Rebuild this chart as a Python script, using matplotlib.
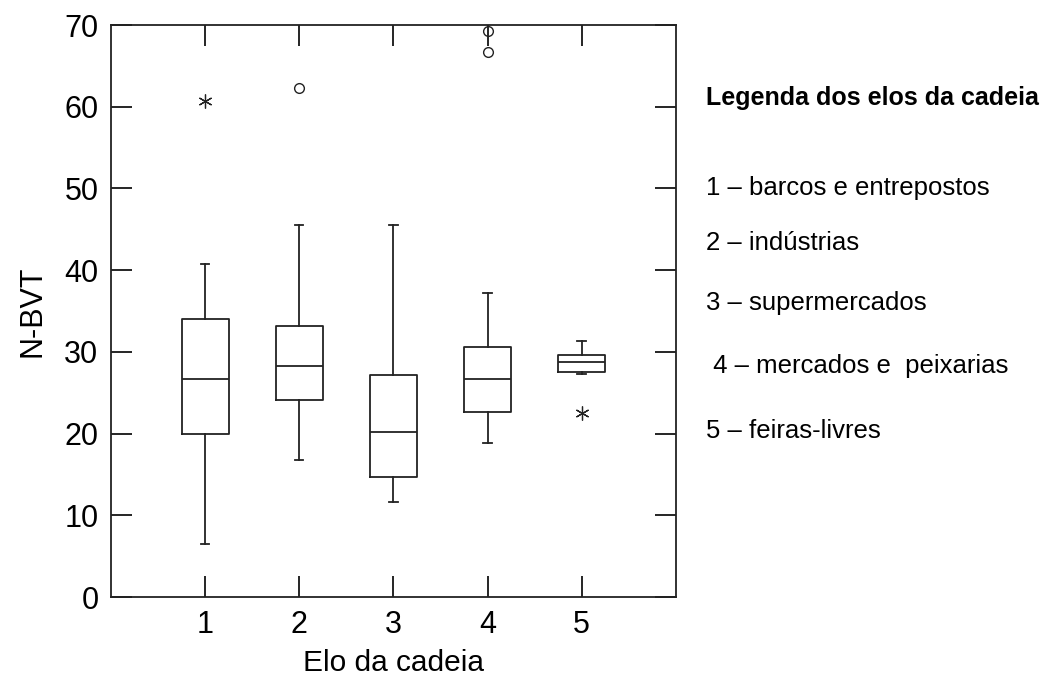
import matplotlib
matplotlib.use("Agg")
import matplotlib.pyplot as plt

plt.rcParams["font.family"] = ["Liberation Sans", "DejaVu Sans"]

# box statistics (N-BVT per chain link)
groups = [1, 2, 3, 4, 5]
whisker_low = [6.5, 16.8, 11.6, 18.9, 27.3]
q1 = [20.0, 24.1, 14.7, 22.6, 27.5]
medians = [26.7, 28.3, 20.2, 26.7, 28.8]
q3 = [34.0, 33.2, 27.2, 30.6, 29.6]
whisker_high = [40.8, 45.5, 45.5, 37.2, 31.4]
outliers_circle = [[], [62.3], [], [69.3, 66.7], []]
outliers_star = [[60.7], [], [], [], [22.5]]

legend_title = "Legenda dos elos da cadeia"
legend_items = [
    "1 – barcos e entrepostos",
    "2 – indústrias",
    "3 – supermercados",
    " 4 – mercados e  peixarias",
    "5 – feiras-livres",
]

fig = plt.figure(figsize=(10.56, 6.77), dpi=100)
ax = fig.add_axes([0.105, 0.118, 0.535, 0.845])

stats = []
for i in range(len(groups)):
    stats.append({
        "whislo": whisker_low[i], "q1": q1[i], "med": medians[i],
        "q3": q3[i], "whishi": whisker_high[i], "fliers": [],
    })

line = dict(color="#222222", linewidth=1.3)
ax.bxp(stats, positions=groups, widths=0.5, showfliers=False,
       boxprops=line, medianprops=line, whiskerprops=line,
       capprops=line, capwidths=0.09)

for x, vals in zip(groups, outliers_circle):
    if vals:
        ax.plot([x] * len(vals), vals, "o", mfc="none", mec="#222222", ms=7, mew=1.0)
for x, vals in zip(groups, outliers_star):
    if vals:
        ax.plot([x] * len(vals), vals, linestyle="none", mfc="none", mec="#222222",
                ms=10, mew=0.9, marker=(6, 2, 0))

ax.set_xlim(0, 6)
ax.set_ylim(0, 70)
ax.set_xticks(groups)
ax.set_xticklabels([str(g) for g in groups])
ax.set_yticks(range(0, 71, 10))
ax.tick_params(direction="in", length=15, width=1.2, labelsize=22,
               top=True, right=True, pad=9)
for s in ax.spines.values():
    s.set_linewidth(1.3)
    s.set_color("#222222")

ax.set_xlabel("Elo da cadeia", fontsize=21.5, labelpad=7)
ax.set_ylabel("N-BVT", fontsize=22, labelpad=12)

fig.text(0.669, 0.855, legend_title, fontsize=18, fontweight="bold",
         ha="left", va="center")
item_y = [0.723, 0.641, 0.552, 0.459, 0.364]
for y, t in zip(item_y, legend_items):
    fig.text(0.669, y, t, fontsize=18.5, ha="left", va="center")

fig.savefig("out.png", dpi=100)
